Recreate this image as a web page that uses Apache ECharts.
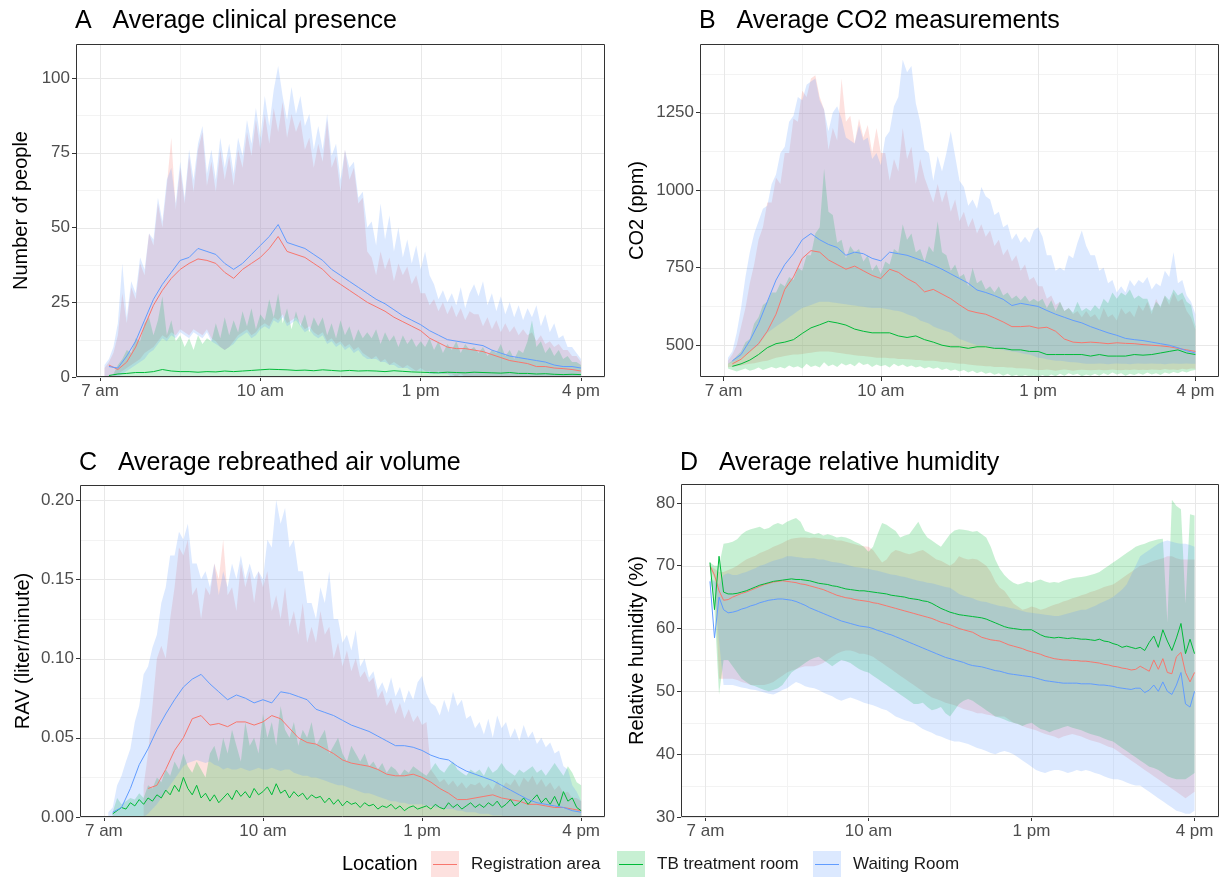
<!DOCTYPE html>
<html>
<head>
<meta charset="utf-8">
<script src="https://cdn.jsdelivr.net/npm/echarts@6/dist/echarts.min.js"></script>
<style>
html, body { margin: 0; padding: 0; background: #ffffff; }
#chart { width: 1222px; height: 877px; }
</style>
</head>
<body>
<div id="chart"></div>
<script>
// ---- sampling times, minutes after midnight ----
const t5 = [
  425,430,435,440,445,450,455,460,465,470,475,480,
  485,490,495,500,505,510,515,520,525,530,535,540,
  545,550,555,560,565,570,575,580,585,590,595,600,
  605,610,615,620,625,630,635,640,645,650,655,660,
  665,670,675,680,685,690,695,700,705,710,715,720,
  725,730,735,740,745,750,755,760,765,770,775,780,
  785,790,795,800,805,810,815,820,825,830,835,840,
  845,850,855,860,865,870,875,880,885,890,895,900,
  905,910,915,920,925,930,935,940,945,950,955,960
];
const t10 = [
  430,440,450,460,470,480,
  490,500,510,520,530,540,
  550,560,570,580,590,600,
  610,620,630,640,650,660,
  670,680,690,700,710,720,
  730,740,750,760,770,780,
  790,800,810,820,830,840,
  850,860,870,880,890,900,
  910,920,930,940,950,960
];

// ---- categories, ticks ----
const locations = ['Registration area', 'TB treatment room', 'Waiting Room'];
const lineColors = ['#F8766D', '#00BA38', '#619CFF'];
const bandColors = ['rgba(248,118,109,0.22)', 'rgba(0,186,56,0.22)', 'rgba(97,156,255,0.22)'];
const xTickValues = [420, 600, 780, 960];
const xTickLabels = ['7 am', '10 am', '1 pm', '4 pm'];
const xMinorValues = [510, 690, 870];

// ---- A: clinical presence (people) ----
const A_reg_hi = [
  3,5,8,14,28,18,30,26,38,34,48,44,
  58,50,64,80,56,70,58,74,62,76,82,64,
  72,62,76,66,74,64,76,70,82,74,86,76,
  88,78,90,82,92,80,88,82,86,76,80,70,
  78,72,86,70,74,62,76,66,70,58,60,42,
  40,34,42,36,40,32,38,34,37,31,34,28,
  28,24,26,22,25,21,24,20,23,19,22,21,
  21,17,20,16,19,15,18,15,17,14,16,14,
  15,12,14,11,12,10,11,9,9,7,7,5
];
const A_reg_lo = [
  0,0,0,1,2,3,4,5,6,8,9,10,
  12,14,13,15,14,16,15,14,16,15,14,16,
  13,12,10,9,10,12,14,15,16,14,15,17,
  18,17,20,19,21,18,19,20,18,16,17,15,
  14,15,12,13,11,12,10,11,9,10,8,7,
  6,7,5,6,4,5,4,3,4,3,2,3,
  2,2,1,2,1,1,1,0,1,0,0,0,
  0,0,0,0,0,0,0,0,0,0,0,0,
  0,0,0,0,0,0,0,0,0,0,0,0
];
const A_tb_hi = [
  null,null,1,4,6,9,8,13,12,18,20,14,
  19,27,14,19,12,14,10,13,9,14,11,13,
  12,18,13,20,14,19,15,22,17,23,16,21,
  19,26,20,28,18,23,16,22,17,21,15,20,
  17,20,14,18,13,19,14,17,12,16,13,15,
  13,16,11,15,12,14,10,14,11,13,10,12,
  10,13,9,12,8,11,9,12,8,11,9,10,
  8,10,7,9,8,11,7,9,6,9,8,12,
  19,10,12,8,10,7,9,6,7,5,5,4
];
const A_tb_lo = [
  null,null,0,0,0,0,0,0,0,0,0,0,
  0,0,0,0,0,0,0,0,0,0,0,0,
  0,0,0,0,0,0,0,0,0,0,0,0,
  0,0,0,0,0,0,0,0,0,0,0,0,
  0,0,0,0,0,0,0,0,0,0,0,0,
  0,0,0,0,0,0,0,0,0,0,0,0,
  0,0,0,0,0,0,0,0,0,0,0,0,
  0,0,0,0,0,0,0,0,0,0,0,0,
  0,0,0,0,0,0,0,0,0,0,0,0
];
const A_wait_hi = [
  4,6,10,18,38,20,32,28,40,36,48,46,
  60,52,66,70,58,72,60,76,66,78,84,68,
  76,66,80,70,78,68,80,74,86,78,90,80,
  94,84,96,104,94,86,97,88,94,84,88,76,
  84,76,88,74,78,66,76,70,72,60,62,50,
  52,44,58,46,54,42,50,40,46,38,44,36,
  42,34,31,26,29,25,28,24,30,23,28,31,
  27,32,24,28,22,27,21,25,20,24,19,23,
  20,24,17,21,15,18,13,14,10,10,8,6
];
const A_wait_lo = [
  0,0,0,0,1,2,3,4,5,6,8,9,
  11,13,12,14,13,15,14,13,15,14,13,15,
  12,11,10,9,10,11,13,14,15,13,14,16,
  17,16,19,18,20,17,18,19,17,15,16,14,
  13,14,11,12,10,11,9,10,8,9,7,6,
  6,6,5,5,4,4,3,3,3,2,2,2,
  2,1,1,1,1,1,0,0,0,0,0,0,
  0,0,0,0,0,0,0,0,0,0,0,0,
  0,0,0,0,0,0,0,0,0,0,0,0
];
const A_reg_mean = [
  4,2.5,5,10,17,24,
  29,33,36,38,39.5,39,
  38,35,33,36,38,40,
  43,47,42,41,40,38,
  36,33,31,29,27,25,
  23.5,22,20,18.5,17,15.5,
  13,11.5,10,9.5,9.5,9,
  8.5,7.5,6.5,5.5,5,4.5,
  3.5,3.5,3,2.8,2.5,2
];
const A_tb_mean = [
  0.5,1,1.2,1.5,1.5,1.8,
  2.5,2,1.8,1.8,1.6,1.8,
  1.7,2,1.8,2,2.2,2.4,
  2.6,2.5,2.4,2.2,2.3,2.1,
  2.4,2.2,2,2.2,2,2.1,
  2,1.8,2.1,1.9,1.7,1.6,
  1.5,1.4,1.6,1.5,1.4,1.6,
  1.5,1.4,1.3,1.5,1.2,1.2,
  1,1.1,0.9,0.8,0.9,0.8
];
const A_wait_mean = [
  3.5,3,7,12,19,26,
  31,35,39,40,43,42,
  41,38,36,38,41,44,
  47,51,45,44,43,41,
  39,36,34,32,30,28,
  26,24.5,22.5,20.5,19,17.5,
  15.5,14,12.5,12,11.5,11,
  10.5,9,8,7,6.5,6,
  5.5,5,4,3.5,3.5,3
];

// ---- B: CO2 (ppm) ----
const B_reg_hi = [
  450,470,500,560,620,700,760,840,880,960,960,1040,
  1020,1120,1120,1230,1220,1320,1300,1360,1370,1300,1260,1130,
  1200,1160,1360,1220,1240,1150,1230,1170,1210,1120,1200,1120,
  1120,1030,1100,1060,1200,1100,1140,1020,1100,1040,1000,960,
  1020,960,1000,930,970,900,930,880,910,860,890,850,
  870,820,840,790,810,770,790,740,760,710,720,690,
  690,650,660,630,640,610,620,600,610,590,610,590,
  600,580,620,590,600,580,620,600,610,590,630,610,
  640,600,650,620,660,630,670,640,650,610,590,550
];
const B_reg_lo = [
  430,430,432,435,438,440,442,445,448,450,455,460,
  462,465,468,470,470,472,474,476,478,480,480,480,
  478,476,474,472,470,468,466,465,464,462,460,460,
  460,458,458,456,456,455,454,452,452,450,450,450,
  448,446,445,444,442,440,440,438,436,435,434,432,
  432,430,430,430,428,428,426,426,425,424,422,420,
  420,422,420,418,420,422,420,418,420,421,420,419,
  420,421,419,420,422,420,419,421,420,422,420,421,
  420,422,421,420,423,421,422,420,424,422,425,424
];
const B_tb_hi = [
  440,450,465,480,510,520,570,590,630,640,670,670,
  700,690,720,710,750,740,790,790,860,880,1070,930,
  920,830,840,780,820,800,810,770,790,740,760,730,
  770,760,810,800,890,840,860,800,810,770,820,800,
  900,800,790,740,760,720,730,690,750,700,710,680,
  690,670,690,660,670,650,660,645,660,640,650,640,
  650,620,645,610,640,610,620,605,640,610,620,610,
  630,615,650,635,670,650,670,660,680,650,660,650,
  650,610,640,625,660,645,680,660,670,640,630,560
];
const B_tb_lo = [
  425,420,415,420,425,418,422,428,420,425,430,425,
  430,425,435,428,432,425,440,430,435,428,445,432,
  438,430,442,435,440,432,445,436,440,430,438,432,
  436,428,440,432,438,430,435,428,432,425,430,424,
  428,420,425,418,422,415,420,412,418,410,415,408,
  412,405,410,402,408,400,405,398,404,400,402,398,
  404,398,406,400,408,402,410,404,408,400,406,402,
  408,402,410,404,412,406,410,402,408,404,410,405,
  412,406,410,404,412,408,414,410,416,412,418,420
];
const B_wait_hi = [
  460,480,540,620,720,800,860,900,940,950,1020,1050,
  1120,1140,1220,1240,1300,1290,1340,1350,1360,1290,1260,1190,
  1250,1270,1230,1170,1160,1150,1210,1160,1170,1100,1120,1080,
  1170,1190,1270,1300,1420,1380,1400,1280,1220,1130,1120,1030,
  1110,1060,1120,1190,1110,1030,1010,950,970,940,1010,980,
  970,920,930,880,890,840,860,830,850,830,870,880,
  850,790,790,740,750,740,790,780,830,870,820,790,
  790,740,750,700,710,670,690,670,710,690,710,700,
  720,680,700,690,740,720,800,700,710,660,640,600
];
const B_wait_lo = [
  440,445,450,460,470,480,490,500,520,540,550,560,
  570,580,590,600,610,620,625,630,635,640,640,640,
  638,636,634,632,630,628,626,624,622,620,620,620,
  618,615,612,610,606,600,595,590,580,575,570,560,
  555,550,545,540,530,520,515,510,505,500,500,500,
  495,490,488,485,482,480,478,475,472,470,465,460,
  458,455,452,450,450,448,446,445,444,442,440,440,
  440,441,440,439,440,441,440,440,439,440,441,440,
  440,441,440,440,439,440,441,440,440,441,440,440
];
const B_reg_mean = [
  440,455,480,505,545,600,
  680,720,780,805,800,775,
  760,745,755,740,725,715,
  745,735,715,700,672,680,
  665,650,630,612,605,600,
  588,575,560,560,562,555,
  558,545,520,510,508,510,
  508,505,508,506,505,502,
  500,498,495,490,485,480
];
const B_tb_mean = [
  432,440,452,470,492,505,
  510,518,538,556,566,577,
  572,565,552,545,540,540,
  540,530,525,530,518,510,
  500,495,495,490,495,495,
  490,490,485,485,480,480,
  470,470,470,470,470,465,
  470,465,465,465,470,468,
  470,475,480,485,475,470
];
const B_wait_mean = [
  450,470,515,570,640,710,
  760,795,840,860,840,825,
  815,790,800,795,780,772,
  800,795,790,780,770,758,
  745,730,715,700,678,670,
  660,648,628,635,630,625,
  612,600,590,580,572,560,
  550,540,532,522,518,515,
  510,505,500,492,482,475
];

// ---- C: rebreathed air volume (liter/minute) ----
const C_reg_hi = [
  null,null,null,null,null,null,null,null,0.02,0.04,0.07,0.1,
  0.108,0.1,0.125,0.145,0.17,0.165,0.175,0.14,0.145,0.125,0.145,0.14,
  0.16,0.15,0.175,0.14,0.145,0.13,0.16,0.145,0.155,0.135,0.155,0.145,
  0.155,0.13,0.14,0.125,0.145,0.12,0.13,0.115,0.135,0.11,0.12,0.11,
  0.13,0.115,0.12,0.1,0.11,0.095,0.105,0.092,0.1,0.088,0.092,0.085,
  0.088,0.075,0.08,0.07,0.075,0.065,0.072,0.062,0.068,0.06,0.064,0.058,
  0.06,0.03,0.026,0.022,0.024,0.02,0.023,0.019,0.022,0.018,0.021,0.02,
  0.022,0.018,0.021,0.017,0.023,0.018,0.022,0.02,0.024,0.019,0.025,0.022,
  0.026,0.02,0.024,0.019,0.022,0.017,0.02,0.015,0.016,0.012,0.012,0.01
];
const C_reg_lo = [
  null,null,null,null,null,null,null,null,0,0,0,0,
  0,0,0,0,0,0,0,0,0,0,0,0,
  0,0,0,0,0,0,0,0,0,0,0,0,
  0,0,0,0,0,0,0,0,0,0,0,0,
  0,0,0,0,0,0,0,0,0,0,0,0,
  0,0,0,0,0,0,0,0,0,0,0,0,
  0,0,0,0,0,0,0,0,0,0,0,0,
  0,0,0,0,0,0,0,0,0,0,0,0,
  0,0,0,0,0,0,0,0,0,0,0,0
];
const C_tb_hi = [
  null,0.003,0.012,0.008,0.01,0.012,0.011,0.015,0.012,0.02,0.018,0.025,
  0.022,0.03,0.026,0.035,0.03,0.04,0.032,0.028,0.035,0.03,0.025,0.04,
  0.045,0.035,0.05,0.04,0.055,0.045,0.035,0.06,0.045,0.05,0.04,0.065,
  0.05,0.06,0.045,0.07,0.055,0.05,0.06,0.045,0.055,0.05,0.06,0.045,
  0.05,0.055,0.04,0.045,0.05,0.04,0.035,0.045,0.04,0.035,0.04,0.032,
  0.035,0.03,0.034,0.028,0.032,0.03,0.026,0.03,0.028,0.032,0.03,0.028,
  0.026,0.03,0.034,0.03,0.028,0.032,0.035,0.03,0.028,0.026,0.03,0.028,
  0.03,0.026,0.032,0.028,0.03,0.034,0.03,0.028,0.026,0.03,0.028,0.03,
  0.032,0.028,0.03,0.026,0.03,0.034,0.03,0.026,0.032,0.028,0.022,0.02
];
const C_tb_lo = [
  null,0,0,0,0,0,0,0,0,0,0,0,
  0,0,0,0,0,0,0,0,0,0,0,0,
  0,0,0,0,0,0,0,0,0,0,0,0,
  0,0,0,0,0,0,0,0,0,0,0,0,
  0,0,0,0,0,0,0,0,0,0,0,0,
  0,0,0,0,0,0,0,0,0,0,0,0,
  0,0,0,0,0,0,0,0,0,0,0,0,
  0,0,0,0,0,0,0,0,0,0,0,0,
  0,0,0,0,0,0,0,0,0,0,0,0
];
const C_wait_hi = [
  0.003,0.006,0.02,0.026,0.035,0.043,0.06,0.07,0.09,0.095,0.107,0.115,
  0.135,0.145,0.165,0.165,0.18,0.175,0.185,0.16,0.16,0.15,0.155,0.145,
  0.16,0.14,0.155,0.145,0.16,0.15,0.165,0.15,0.16,0.15,0.155,0.15,
  0.175,0.17,0.2,0.185,0.195,0.17,0.175,0.155,0.155,0.135,0.135,0.125,
  0.145,0.135,0.155,0.125,0.125,0.11,0.115,0.105,0.118,0.095,0.1,0.088,
  0.092,0.08,0.085,0.078,0.088,0.076,0.082,0.072,0.08,0.074,0.085,0.089,
  0.078,0.072,0.07,0.064,0.074,0.066,0.079,0.07,0.074,0.062,0.064,0.056,
  0.06,0.052,0.062,0.05,0.064,0.056,0.06,0.05,0.056,0.048,0.058,0.05,
  0.054,0.046,0.05,0.044,0.047,0.04,0.042,0.032,0.03,0.02,0.016,0.01
];
const C_wait_lo = [
  0,0,0,0,0,0,0,0,0,0.002,0.005,0.008,
  0.012,0.016,0.02,0.024,0.028,0.032,0.034,0.035,0.036,0.035,0.034,0.035,
  0.033,0.032,0.03,0.031,0.03,0.03,0.031,0.03,0.029,0.03,0.031,0.03,
  0.03,0.031,0.03,0.029,0.03,0.03,0.028,0.027,0.026,0.026,0.025,0.025,
  0.024,0.023,0.022,0.021,0.02,0.02,0.019,0.018,0.017,0.016,0.015,0.015,
  0.014,0.013,0.012,0.011,0.01,0.01,0.009,0.009,0.008,0.008,0.008,0.008,
  0.007,0.007,0.006,0.006,0.005,0.005,0.005,0.004,0.004,0.003,0.003,0.003,
  0.002,0.002,0.002,0.001,0.001,0.001,0,0,0,0,0,0,
  0,0,0,0,0,0,0,0,0,0,0,0
];
const C_reg_mean = [
  null,null,null,null,0.018,0.02,
  0.03,0.042,0.05,0.062,0.064,0.058,
  0.059,0.057,0.06,0.06,0.058,0.06,
  0.064,0.062,0.056,0.05,0.047,0.046,
  0.043,0.04,0.036,0.034,0.033,0.032,
  0.03,0.027,0.026,0.026,0.027,0.025,
  0.022,0.018,0.015,0.011,0.011,0.012,
  0.013,0.014,0.012,0.011,0.01,0.008,
  0.008,0.007,0.006,0.006,0.005,0.004
];
const C_tb_mean = [
  null,0.002,0.004,0.006,0.005,0.009,0.007,0.011,0.008,0.012,0.01,0.014,
  0.012,0.017,0.014,0.02,0.016,0.025,0.018,0.014,0.02,0.012,0.015,0.01,
  0.014,0.009,0.012,0.015,0.011,0.017,0.013,0.016,0.012,0.018,0.014,0.016,
  0.019,0.014,0.021,0.015,0.017,0.012,0.016,0.013,0.015,0.011,0.014,0.012,
  0.013,0.009,0.012,0.008,0.011,0.007,0.01,0.008,0.009,0.006,0.009,0.007,
  0.008,0.005,0.007,0.006,0.008,0.005,0.007,0.004,0.006,0.007,0.005,0.006,
  0.007,0.005,0.008,0.006,0.005,0.009,0.006,0.008,0.005,0.007,0.009,0.006,
  0.008,0.006,0.009,0.007,0.01,0.006,0.008,0.011,0.007,0.009,0.012,0.008,
  0.011,0.014,0.009,0.012,0.008,0.013,0.007,0.016,0.01,0.012,0.006,0.004
];
const C_wait_mean = [
  0.003,0.006,0.018,0.033,0.043,0.055,
  0.065,0.074,0.082,0.087,0.09,0.084,
  0.079,0.074,0.077,0.075,0.072,0.074,
  0.072,0.079,0.078,0.076,0.074,0.068,
  0.066,0.064,0.061,0.058,0.056,0.054,
  0.051,0.048,0.045,0.045,0.044,0.042,
  0.039,0.037,0.036,0.032,0.029,0.027,
  0.025,0.023,0.02,0.017,0.014,0.011,
  0.009,0.008,0.007,0.006,0.004,0.003
];

// ---- D: relative humidity (%) ----
const D_reg_hi = [
  70,69.5,69,69,69.3,69.6,70,70.5,71,71.3,71.6,72,
  72.3,72.6,73,73.3,73.6,74,74.3,74.4,74.5,74.5,74.4,74.5,
  74.4,74.3,74.2,74.2,74,74,73.8,73.6,73.4,73.2,73.1,73,
  72.5,71.5,70.5,71,72,72.5,72.3,72,71.8,72,72.3,72.5,
  72,71.5,71,70.8,70.4,70,70.5,71.5,71.2,71,71.1,71,
  70.5,70,69,67.5,66.5,66,65,64,63.5,63,63.2,63.5,
  63.3,63,63.2,63.5,63.8,64,64.3,64.5,64.8,65,65.3,65.5,
  65.8,66,66.3,66.6,66.8,67,67.5,68,68.5,69,69.5,70,
  70.2,70.5,70.8,71,71.2,71.5,71.5,71.2,71,71,71,71
];
const D_reg_lo = [
  69.5,68,52,52,52,52,51.8,51.5,51.3,51,51,51,
  51,51.2,51.5,52,52.5,53,53.3,53.5,53.8,54,54,54,
  54.2,54.5,55,55.5,56,56.3,56.5,56.5,56.3,56,56,55.8,
  55.5,55,54.5,54,53.5,53,52.5,52,51.5,51,50.5,50,
  49.5,49,48.8,48.5,48.2,48,47.8,47.5,47.2,47,46.8,46.5,
  46.5,46.3,46.2,46,46,46,45.5,45,44.8,44.5,44.2,44,
  43.8,43.5,43.2,43,42.8,42.5,42.8,43,43.2,43,42.8,42.5,
  42.2,42,41.8,41.5,41.2,41,40.5,40,39.5,39,38.5,38,
  37.5,37,36.5,36,35.5,35,34.5,34,33.5,33,33.5,34
];
const D_tb_hi = [
  70.5,70,70,73.5,73.6,73.8,74.2,75,75.5,75.8,76,76.2,
  75.8,76,76.5,76.8,76.5,77,77.3,77.6,77,75.5,75.3,75,
  75.2,74.8,75,74.8,74.5,74.6,74.5,74.2,73.8,73.5,73,72.2,
  73,75,76.8,76.5,76,75.5,74.5,74.8,75,76,77,75.5,
  74.5,74,73.5,73,74,75,75.6,75.8,75.7,75.6,75.4,75.5,
  75,74.5,73,71,69.5,68.5,67.8,67.3,67,67.2,67.5,67.3,
  67.6,67.8,67.5,67.3,67.4,67.3,67.6,67.8,68,68.1,68.2,68.3,
  68.5,68.7,69,69.5,70,70.5,71,71.5,72,72.5,73,73.3,
  73.5,73.8,74,74.2,74.3,61,80.5,79.5,79,64,78.2,78
];
const D_tb_lo = [
  70,63,49.5,55,55,54,53,52,51.5,51,50.8,50.5,
  50.2,50,50.2,50.5,51,52,53,53.5,54,54.5,55,55.3,
  55.5,55,54.5,54,54.5,55,54.8,54.5,54,53.5,53.2,53,
  52.5,52,51.5,51,50.5,50,49.5,49,48.5,48,48,48.2,
  47.5,47,47.2,47.5,46.5,46,47,48,48.5,48.8,48.5,48,
  47.5,47,46.5,46,45.8,45.5,45.2,45,44.8,44.5,44.8,45,
  44.5,44,43.8,43.5,43.8,44,44.3,44.5,44.2,44,43.8,43.5,
  43.2,43,42.8,42.5,42.2,42,41.5,41,40.5,40,39.5,39,
  38.5,38,37.8,37.5,37,36.5,36.2,36,36,36,36.5,37
];
const D_wait_hi = [
  68,67.5,67,68.5,68.8,68.5,68.5,68.8,69,69.3,69.6,70,
  70.2,70.5,70.8,71,71.2,71.5,71.5,71.4,71.3,71.2,71.2,71.2,
  71,71,70.8,70.6,70.5,70.4,70.2,70,69.8,69.7,69.6,69.5,
  69.3,69.2,69,68.8,68.6,68.5,68.3,68.2,68,67.8,67.6,67.5,
  67.3,67.2,67,66.8,66.6,66.5,66,65.5,65.2,65,64.8,64.5,
  64.3,64.2,64,63.8,63.6,63.5,63.3,63.2,63,62.8,62.6,62.5,
  62.4,62.3,62.2,62.1,62,62,62.2,62.4,62.6,62.8,63,63,
  63.3,63.6,64,64.3,64.6,65,65.6,66.2,67,68.5,70,71.5,
  72,72.5,73,73.5,73.8,74,73.8,73.6,73.5,73.5,73.3,73
];
const D_wait_lo = [
  67,66,58,51,51,51,50.8,50.6,50.5,50.3,50.2,50,
  49.8,49.6,49.5,49.8,50.2,50.5,51,51.5,51.2,50.8,50.6,50.5,
  50.2,49.8,49.5,49.2,48.8,48.5,48.8,49,48.8,48.5,48.2,48,
  47.8,47.5,47.2,47,46.5,46,45.7,45.4,45.2,45,44.5,44,
  43.7,43.4,43,42.8,42.5,42.2,42,42,41.8,41.6,41.3,41,
  40.8,40.5,40.2,40,40.3,40.5,40.3,40,39.5,39,38.5,38,
  37.5,37.2,37,37.3,37.5,37.5,37.3,37,37.2,37.5,37.3,37.5,
  37.3,37,36.8,36.5,36.2,36,36,35.8,35.5,35.2,35,35,
  34.5,34,33.5,33,32.5,32,31.5,31,30.8,30.5,30.5,31
];
const D_reg_mean = [
  70,68.5,66,64.5,64.6,65,65.3,65.6,65.8,66.1,66.4,66.7,
  67,67.2,67.4,67.5,67.6,67.5,67.4,67.3,67.1,67,66.8,66.6,
  66.4,66.2,65.9,65.6,65.3,65.1,64.9,64.8,64.6,64.5,64.4,64.3,
  64.1,64,63.8,63.6,63.4,63.2,63,62.8,62.6,62.4,62.2,62,
  61.8,61.6,61.3,61,60.8,60.6,60.3,60,59.8,59.6,59.4,59,
  58.6,58.4,58.2,58.1,58,57.7,57.4,57.2,57,56.8,56.5,56.3,
  56.1,55.9,55.6,55.4,55.2,55.1,55,55,54.9,54.9,54.8,54.8,
  54.7,54.6,54.5,54.3,54.2,54,53.9,53.7,53.6,53.4,53.5,54,
  53.6,53.2,55,53.5,55.2,53,52.8,55.5,56.2,53,51.5,53
];
const D_tb_mean = [
  70.5,63,71.5,65.8,65.5,65.5,65.6,65.8,66,66.3,66.6,66.9,
  67.1,67.3,67.5,67.6,67.7,67.8,67.9,67.8,67.8,67.7,67.6,67.4,
  67.2,67.1,67,66.8,66.7,66.5,66.3,66.2,66.1,66,66,65.9,
  65.8,65.7,65.6,65.5,65.3,65.2,65.1,65,64.8,64.7,64.6,64.4,
  64.3,64,63.6,63.2,62.9,62.6,62.4,62.2,62.1,62,61.9,61.8,
  61.7,61.5,61.2,60.9,60.6,60.3,60.1,60,59.9,59.8,59.8,59.8,
  59.4,59,58.7,58.6,58.5,58.6,58.5,58.4,58.5,58.4,58.3,58.3,
  58.2,58.1,58.3,58,57.9,57.6,57.4,57,57.2,57,56.8,57,
  56.5,57.8,58.8,57,59.8,58,56.5,58.5,60.8,56,58.3,56
];
const D_wait_mean = [
  67.5,58.5,65,63,62.5,62.6,62.8,63.1,63.3,63.6,63.8,64.1,
  64.3,64.5,64.6,64.7,64.7,64.6,64.5,64.3,64,63.7,63.3,63,
  62.7,62.4,62.1,61.8,61.5,61.2,61,60.8,60.6,60.4,60.3,60.2,
  60,59.7,59.5,59.2,59,58.7,58.4,58.1,57.8,57.5,57.2,56.9,
  56.6,56.3,56,55.7,55.4,55.2,55,54.8,54.6,54.3,54.1,54,
  53.9,53.7,53.5,53.3,53.2,53,52.8,52.7,52.6,52.5,52.4,52.3,
  52.1,51.9,51.7,51.6,51.5,51.4,51.3,51.3,51.3,51.3,51.2,51.2,
  51.2,51.1,51,51,50.9,50.8,50.6,50.5,50.4,50.3,50.5,50.5,
  49.8,50.2,51,50,51.5,50,49.5,51,53,48,47.5,50
];

// ---- y tick values and labels per panel ----
const A_yTicks = [0, 25, 50, 75, 100];
const A_yLabels = ['0', '25', '50', '75', '100'];
const A_yMinor = [12.5, 37.5, 62.5, 87.5];
const B_yTicks = [500, 750, 1000, 1250];
const B_yLabels = ['500', '750', '1000', '1250'];
const B_yMinor = [625, 875, 1125, 1375];
const C_yTicks = [0, 0.05, 0.1, 0.15, 0.2];
const C_yLabels = ['0.00', '0.05', '0.10', '0.15', '0.20'];
const C_yMinor = [0.025, 0.075, 0.125, 0.175];
const D_yTicks = [30, 40, 50, 60, 70, 80];
const D_yLabels = ['30', '40', '50', '60', '70', '80'];
const D_yMinor = [35, 45, 55, 65, 75];

// ---- layout ----
const FONT = '"Liberation Sans", Arial, Helvetica, sans-serif';
const X_MIN = 393, X_MAX = 987;

const panels = [
  {
    title: 'A   Average clinical presence', titleTop: 9,
    yName: 'Number of people', nameGap: 45,
    grid: { left: 76, top: 44, width: 529, height: 333 },
    yMin: 0, yMax: 111.4, yTicks: A_yTicks, yLabels: A_yLabels, yMinor: A_yMinor,
    bands: [[A_reg_lo, A_reg_hi], [A_tb_lo, A_tb_hi], [A_wait_lo, A_wait_hi]],
    means: [[t10, A_reg_mean], [t10, A_tb_mean], [t10, A_wait_mean]]
  },
  {
    title: 'B   Average CO2 measurements', titleTop: 9,
    yName: 'CO2 (ppm)', nameGap: 53,
    grid: { left: 700, top: 44, width: 519, height: 333 },
    yMin: 397.6, yMax: 1471, yTicks: B_yTicks, yLabels: B_yLabels, yMinor: B_yMinor,
    bands: [[B_reg_lo, B_reg_hi], [B_tb_lo, B_tb_hi], [B_wait_lo, B_wait_hi]],
    means: [[t10, B_reg_mean], [t10, B_tb_mean], [t10, B_wait_mean]]
  },
  {
    title: 'C   Average rebreathed air volume', titleTop: 451,
    yName: 'RAV (liter/minute)', nameGap: 47,
    grid: { left: 80, top: 485, width: 525, height: 332 },
    yMin: 0, yMax: 0.2095, yTicks: C_yTicks, yLabels: C_yLabels, yMinor: C_yMinor,
    bands: [[C_reg_lo, C_reg_hi], [C_tb_lo, C_tb_hi], [C_wait_lo, C_wait_hi]],
    means: [[t10, C_reg_mean], [t5, C_tb_mean], [t10, C_wait_mean]]
  },
  {
    title: 'D   Average relative humidity', titleTop: 451,
    yName: 'Relative humidity (%)', nameGap: 34,
    grid: { left: 681, top: 484, width: 538, height: 333 },
    yMin: 30, yMax: 83.0, yTicks: D_yTicks, yLabels: D_yLabels, yMinor: D_yMinor,
    bands: [[D_reg_lo, D_reg_hi], [D_tb_lo, D_tb_hi], [D_wait_lo, D_wait_hi]],
    means: [[t5, D_reg_mean], [t5, D_tb_mean], [t5, D_wait_mean]]
  }
];

// background grid lines (major at ticks, minor between them)
function gridLinesRenderer(p) {
  return function (params, api) {
    const cs = params.coordSys;
    const children = [];
    const vLine = (v, color) => {
      const x = Math.round(api.coord([v, p.yMin])[0]) + 0.5;
      children.push({ type: 'line', shape: { x1: x, y1: cs.y, x2: x, y2: cs.y + cs.height },
        style: { stroke: color, lineWidth: 1 } });
    };
    const hLine = (v, color) => {
      const y = Math.round(api.coord([X_MIN, v])[1]) + 0.5;
      children.push({ type: 'line', shape: { x1: cs.x, y1: y, x2: cs.x + cs.width, y2: y },
        style: { stroke: color, lineWidth: 1 } });
    };
    xMinorValues.forEach(v => vLine(v, '#F3F3F3'));
    p.yMinor.forEach(v => { if (v > p.yMin && v < p.yMax) hLine(v, '#F3F3F3'); });
    xTickValues.forEach(v => vLine(v, '#E8E8E8'));
    p.yTicks.forEach(v => hLine(v, '#E8E8E8'));
    return { type: 'group', children: children };
  };
}

// ribbon between lower and upper values
function bandRenderer(t, lo, hi, fill) {
  return function (params, api) {
    const upper = [], lower = [];
    for (let i = 0; i < t.length; i++) {
      if (lo[i] == null || hi[i] == null) continue;
      upper.push(api.coord([t[i], hi[i]]));
      lower.push(api.coord([t[i], lo[i]]));
    }
    return { type: 'polygon', shape: { points: upper.concat(lower.reverse()) },
      style: { fill: fill } };
  };
}

// panel frame drawn on top of everything
function frameRenderer() {
  return function (params, api) {
    const cs = params.coordSys;
    return { type: 'rect', shape: { x: cs.x + 0.5, y: cs.y + 0.5, width: cs.width - 1, height: cs.height - 1 },
      style: { fill: null, stroke: '#333333', lineWidth: 1 } };
  };
}

const option = {
  animation: false,
  backgroundColor: '#ffffff',
  textStyle: { fontFamily: FONT },
  title: [], grid: [], xAxis: [], yAxis: [], series: [], graphic: []
};

panels.forEach((p, gi) => {
  option.title.push({
    text: p.title, left: p.grid.left - 1, top: p.titleTop, padding: 0,
    textStyle: { fontFamily: FONT, fontSize: 25, fontWeight: 'normal', color: '#000000' }
  });
  option.grid.push(Object.assign({ containLabel: false, show: false }, p.grid));
  option.xAxis.push({
    type: 'value', gridIndex: gi, min: X_MIN, max: X_MAX,
    axisLine: { show: false },
    axisTick: { show: true, customValues: xTickValues, length: 4, lineStyle: { color: '#333333', width: 1 } },
    axisLabel: { customValues: xTickValues, formatter: v => xTickLabels[xTickValues.indexOf(v)],
      color: '#4D4D4D', fontSize: 17, margin: 6, fontFamily: FONT },
    splitLine: { show: false }
  });
  option.yAxis.push({
    type: 'value', gridIndex: gi, min: p.yMin, max: p.yMax,
    name: p.yName, nameLocation: 'middle', nameGap: p.nameGap,
    nameTextStyle: { fontFamily: FONT, fontSize: 20, color: '#000000' },
    axisLine: { show: false },
    axisTick: { show: true, customValues: p.yTicks, length: 4, lineStyle: { color: '#333333', width: 1 } },
    axisLabel: { customValues: p.yTicks, formatter: v => p.yLabels[p.yTicks.indexOf(v)],
      color: '#4D4D4D', fontSize: 17, margin: 6, fontFamily: FONT },
    splitLine: { show: false }
  });
  option.series.push({
    type: 'custom', name: 'grid-' + gi, xAxisIndex: gi, yAxisIndex: gi, z: 1, silent: true,
    data: [[X_MIN, p.yMin]], renderItem: gridLinesRenderer(p)
  });
  p.bands.forEach((b, si) => {
    option.series.push({
      type: 'custom', name: locations[si] + ' range', xAxisIndex: gi, yAxisIndex: gi, z: 2, silent: true,
      clip: true, data: [[X_MIN, p.yMin]], renderItem: bandRenderer(t5, b[0], b[1], bandColors[si])
    });
  });
  p.means.forEach((m, si) => {
    option.series.push({
      type: 'line', name: locations[si], xAxisIndex: gi, yAxisIndex: gi, z: 3, silent: true,
      data: m[0].map((x, i) => [x, m[1][i]]), showSymbol: false, symbol: 'none',
      connectNulls: false, clip: true,
      lineStyle: { color: lineColors[si], width: 1 }, itemStyle: { color: lineColors[si] }
    });
  });
  option.series.push({
    type: 'custom', name: 'frame-' + gi, xAxisIndex: gi, yAxisIndex: gi, z: 5, silent: true,
    data: [[X_MIN, p.yMin]], renderItem: frameRenderer()
  });
});

// legend along the bottom
const legendKeyX = [431, 617, 813];
option.graphic.push({
  type: 'text', x: 342, y: 864,
  style: { text: 'Location', font: '20px ' + FONT, fill: '#000000', verticalAlign: 'middle', textVerticalAlign: 'middle' }
});
locations.forEach((name, i) => {
  const x = legendKeyX[i];
  option.graphic.push({ type: 'rect', shape: { x: x, y: 851, width: 28, height: 26 }, style: { fill: bandColors[i] } });
  option.graphic.push({ type: 'line', shape: { x1: x + 2, y1: 864.5, x2: x + 26, y2: 864.5 },
    style: { stroke: lineColors[i], lineWidth: 1 } });
  option.graphic.push({
    type: 'text', x: x + 40, y: 864,
    style: { text: name, font: '17px ' + FONT, fill: '#1A1A1A', verticalAlign: 'middle', textVerticalAlign: 'middle' }
  });
});

const chart = echarts.init(document.getElementById('chart'), null, { renderer: 'canvas' });
chart.setOption(option);
</script>
</body>
</html>
